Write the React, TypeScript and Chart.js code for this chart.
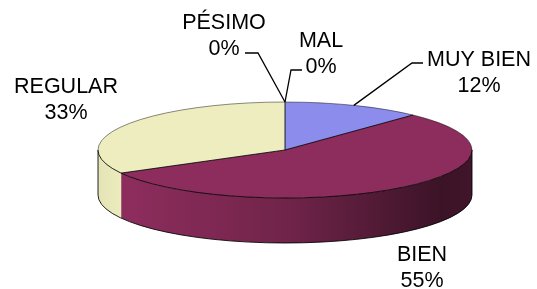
import React, { useEffect, useRef } from 'react';
import { Chart, registerables } from 'chart.js';

Chart.register(...registerables);

// ---- data ----
const categories = ['MUY BIEN', 'BIEN', 'REGULAR', 'PÉSIMO', 'MAL'];
const values = [12, 55, 33, 0, 0];
const colors = ['#8C8CEC', '#8D2D5D', '#EDEDBF', '#9999FF', '#FFFFCC'];

// ---- layout (3D ellipse projection + label placement) ----
const GEO = { cx: 285, cy: 150, rx: 187, ry: 48, depth: 45 };
const FONT = '21.5px "Liberation Sans", Arial, sans-serif';
const LINE_H = 25.5;
const LABEL_LAYOUT: { x: number; y: number; leader: number[][] | null }[] = [
  { x: 479, y: 66, leader: [[423, 63], [412, 63]] },
  { x: 422, y: 261, leader: null },
  { x: 66, y: 93, leader: null },
  { x: 224, y: 29, leader: [[245, 53], [258, 53]] },
  { x: 321, y: 47, leader: [[302, 70], [291, 70]] },
];

function shade(hex: string, f: number) {
  const n = parseInt(hex.slice(1), 16);
  const r = Math.round(((n >> 16) & 255) * f);
  const g = Math.round(((n >> 8) & 255) * f);
  const b = Math.round((n & 255) * f);
  return `rgb(${r},${g},${b})`;
}

const pie3d = {
  id: 'pie3d',
  beforeDatasetsDraw(chart: any) {
    const ctx = chart.ctx as CanvasRenderingContext2D;
    const arcs = chart.getDatasetMeta(0).data as any[];
    const { cx, cy, rx, ry, depth } = GEO;
    // side walls (front half only)
    const fronts = [[0, Math.PI], [2 * Math.PI, 3 * Math.PI]];
    arcs.forEach((arc, i) => {
      const sa = arc.startAngle, ea = arc.endAngle;
      if (ea - sa <= 1e-6) return;
      fronts.forEach(([f0, f1]) => {
        const s = Math.max(sa, f0), e = Math.min(ea, f1);
        if (e - s <= 1e-6) return;
        const base = colors[i];
        const g = ctx.createLinearGradient(cx - rx, 0, cx + rx, 0);
        g.addColorStop(0, shade(base, 0.96));
        g.addColorStop(0.08, shade(base, 1));
        g.addColorStop(0.5, shade(base, 0.8));
        g.addColorStop(0.92, shade(base, 0.42));
        g.addColorStop(1, shade(base, 0.46));
        ctx.save();
        ctx.beginPath();
        ctx.moveTo(cx + rx * Math.cos(s), cy + ry * Math.sin(s));
        ctx.ellipse(cx, cy, rx, ry, 0, s, e, false);
        ctx.lineTo(cx + rx * Math.cos(e), cy + depth + ry * Math.sin(e));
        ctx.ellipse(cx, cy + depth, rx, ry, 0, e, s, true);
        ctx.closePath();
        ctx.fillStyle = g;
        ctx.fill();
        ctx.restore();
      });
    });
    // side outlines
    ctx.save();
    ctx.strokeStyle = 'rgba(0,0,0,0.85)';
    ctx.lineWidth = 1;
    ctx.beginPath();
    ctx.ellipse(cx, cy + depth, rx, ry, 0, 0, Math.PI, false);
    ctx.moveTo(cx - rx, cy);
    ctx.lineTo(cx - rx, cy + depth);
    ctx.moveTo(cx + rx, cy);
    ctx.lineTo(cx + rx, cy + depth);
    ctx.stroke();
    ctx.restore();
    // transform the library's circular pie into the tilted top ellipse
    const a0 = arcs[0];
    const R = a0.outerRadius;
    ctx.save();
    ctx.translate(cx, cy);
    ctx.scale(rx / R, ry / R);
    ctx.translate(-a0.x, -a0.y);
  },
  afterDatasetsDraw(chart: any) {
    const ctx = chart.ctx as CanvasRenderingContext2D;
    ctx.restore();
    const arcs = chart.getDatasetMeta(0).data as any[];
    const { cx, cy, rx, ry } = GEO;
    ctx.save();
    ctx.lineWidth = 1;
    // back edge (lighter)
    ctx.strokeStyle = 'rgba(0,0,0,0.45)';
    ctx.beginPath();
    ctx.ellipse(cx, cy, rx, ry, 0, Math.PI, Math.PI * 2);
    ctx.stroke();
    // front edge + slice boundaries
    ctx.strokeStyle = 'rgba(0,0,0,0.85)';
    ctx.beginPath();
    ctx.ellipse(cx, cy, rx, ry, 0, 0, Math.PI);
    arcs.forEach((arc) => {
      if (arc.endAngle - arc.startAngle <= 1e-6) return;
      const a = arc.startAngle;
      ctx.moveTo(cx, cy);
      ctx.lineTo(cx + rx * Math.cos(a), cy + ry * Math.sin(a));
    });
    ctx.stroke();
    ctx.restore();
  },
  afterDraw(chart: any) {
    const ctx = chart.ctx as CanvasRenderingContext2D;
    const arcs = chart.getDatasetMeta(0).data as any[];
    const { cx, cy, rx, ry } = GEO;
    const total = values.reduce((a, b) => a + b, 0);
    ctx.save();
    ctx.font = FONT;
    ctx.fillStyle = '#000';
    ctx.textAlign = 'center';
    ctx.textBaseline = 'alphabetic';
    arcs.forEach((arc, i) => {
      const L = LABEL_LAYOUT[i];
      const pct = Math.round((values[i] / total) * 100) + '%';
      ctx.fillText(categories[i], L.x, L.y);
      ctx.fillText(pct, L.x, L.y + LINE_H);
      if (L.leader) {
        const mid = (arc.startAngle + arc.endAngle) / 2;
        const px = cx + rx * Math.cos(mid);
        const py = cy + ry * Math.sin(mid);
        ctx.beginPath();
        ctx.strokeStyle = '#000';
        ctx.lineWidth = 1.3;
        ctx.moveTo(L.leader[0][0], L.leader[0][1]);
        for (let k = 1; k < L.leader.length; k++) ctx.lineTo(L.leader[k][0], L.leader[k][1]);
        ctx.lineTo(px, py);
        ctx.stroke();
      }
    });
    ctx.restore();
  },
};

export default function App() {
  const ref = useRef<HTMLCanvasElement>(null);
  useEffect(() => {
    document.body.style.margin = '0';
    const chart = new Chart(ref.current!, {
      type: 'pie',
      data: {
        labels: categories,
        datasets: [
          {
            data: values,
            backgroundColor: colors,
            borderWidth: 0,
          },
        ],
      },
      options: {
        animation: false,
        responsive: false,
        devicePixelRatio: 1,
        events: [],
        layout: { padding: 0 },
        plugins: { legend: { display: false }, tooltip: { enabled: false } },
      },
      plugins: [pie3d],
    });
    return () => chart.destroy();
  }, []);
  return <canvas ref={ref} width={537} height={289} style={{ display: 'block' }} />;
}
